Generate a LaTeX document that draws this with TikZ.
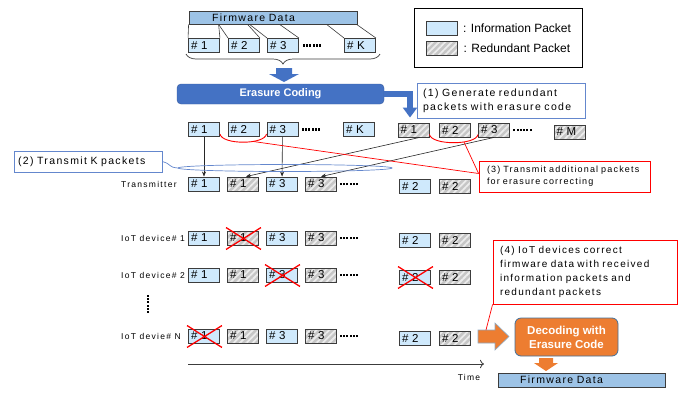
\documentclass[tikz,border=0pt]{standalone}
\usepackage{fontspec}
\setmainfont{Liberation Sans}
\newfontfamily\spfont[LetterSpace=13]{Liberation Sans}
\newfontfamily\lbfont[LetterSpace=15]{Liberation Sans}
\usepackage{xcolor}
\usepackage{tikz}
\usetikzlibrary{positioning,calc,arrows.meta,shapes.geometric,patterns.meta,decorations.pathreplacing}

\definecolor{infofill}{RGB}{207,233,252}
\definecolor{fwfill}{RGB}{157,195,230}
\definecolor{ecblue}{RGB}{68,114,196}
\definecolor{ecorange}{RGB}{237,125,49}
\definecolor{calloutblue}{RGB}{100,135,205}
\definecolor{boxline}{RGB}{60,60,60}
\definecolor{decline}{RGB}{65,113,156}

\newcommand{\pktdots}{\rule{2pt}{2.2pt}\hspace{1.3pt}\rule{2pt}{2.2pt}\hspace{1.3pt}\rule{2pt}{2.2pt}\hspace{1.3pt}\rule{2pt}{2.2pt}\hspace{1.3pt}\rule{2pt}{2.2pt}\hspace{1.3pt}\rule{2pt}{2.2pt}}

\tikzset{
	pkt/.style={draw=boxline, line width=0.9pt, minimum height=14pt, text width=26pt, inner xsep=2.5pt, inner ysep=0pt, align=left, font=\fontsize{11.5}{11.5}\selectfont},
	info/.style={pkt, fill=infofill},
	redun/.style={pkt, preaction={fill=gray!45}, pattern={Lines[angle=45,distance=4.5pt,line width=1.8pt]}, pattern color=white!85!gray},
	rowlab/.style={anchor=west, inner sep=0pt, font=\lbfont\fontsize{8.5}{8.5}\selectfont},
	callout/.style={fill=white, line width=0.8pt, inner ysep=0pt, align=left, font=\spfont\fontsize{10.5}{14}\selectfont},
	fwbar/.style={draw=boxline, fill=fwfill, line width=0.8pt, minimum width=168pt, minimum height=13pt, text width=122pt, inner xsep=23pt, inner ysep=0pt, align=left, font=\spfont\fontsize{10.5}{10.5}\selectfont},
	fwline/.style={draw=boxline, line width=0.6pt},
	redline/.style={draw=red, line width=0.9pt},
	xmark/.style={draw=red, line width=1.3pt},
	pktarrow/.style={-{Stealth[length=5pt,width=4pt]}, black!85, line width=0.6pt}
}

\begin{document}
\begin{tikzpicture}[x=1pt,y=-1pt]
	\useasboundingbox (0,0) rectangle (689,392);

	% legend
	\node[draw, line width=0.8pt, minimum width=168pt, minimum height=59pt] (legend) at (498,37.5) {};
	\node[info] (legi) at (442,28) {};
	\node[redun] (legr) at (442,48) {};
	\node[right=5pt of legi, inner sep=0pt, font=\fontsize{12}{12}\selectfont] (legit) {: Information Packet};
	\node[right=5pt of legr, inner sep=0pt, font=\fontsize{12}{12}\selectfont] (legrt) {: Redundant Packet};

	% firmware data split into K packets
	\node[fwbar] (fw) at (273,17.5) {Firmware Data};
	\node[info] (f1) at (204,45.5) {\# 1};
	\node[info] (f2) at (244,45.5) {\# 2};
	\node[info] (f3) at (283,45.5) {\# 3};
	\node[inner sep=0pt] (fdots) at (312,45.5) {\pktdots};
	\node[info] (fK) at (360,45.5) {\# K};
	\foreach \dx/\p in {0/f1.north west, 30/f1.north east, 30/f2.north west, 59/f2.north east, 61/f3.north west, 91/f3.north east, 138/fK.north west, 168/fK.north east}
		\draw[fwline] ($(fw.south west)+(\dx,0)$) -- (\p);
	\draw[decorate, decoration={brace, amplitude=10pt}, line width=0.7pt, boxline] (380,54) -- (186,54);
	\fill[ecblue] (276,68) -- (292,68) -- (292,74) -- (299,74) -- (284,82) -- (269,74) -- (276,74) -- cycle;

	\node[rounded corners=4pt, fill=ecblue, draw=ecblue!80!black, text=white, minimum width=207pt, minimum height=20pt, font=\bfseries\fontsize{11}{11}\selectfont] (ec) at (280.5,94) {Erasure Coding};

	% coded packets
	\node[info] (c1) at (204,129.5) {\# 1};
	\node[info] (c2) at (243.5,129.5) {\# 2};
	\node[info] (c3) at (282.5,129.5) {\# 3};
	\node[inner sep=0pt] (cdots) at (311,129.5) {\pktdots};
	\node[info] (cK) at (359,129.5) {\# K};
	\node[redun] (p1) at (413.5,130) {\# 1};
	\node[redun] (p2) at (455,130) {\# 2};
	\node[redun] (p3) at (494,130) {\# 3};
	\node[inner sep=0pt] (pdots) at (522.5,130) {\pktdots};
	\node[redun] (pM) at (569.5,132) {\# M};
	\draw[ecblue, line width=6pt, -{Triangle[width=14pt,length=10pt]}] (ec.east) -| ([xshift=-3.5pt,yshift=5pt]p1.north);

	\node[callout, draw=calloutblue, minimum width=168pt, minimum height=35pt, text width=156pt, inner xsep=6pt] (cb1) at (501,100.5) {(1) Generate redundant\\packets with erasure code};

	% transmitter and devices
	\foreach \row/\y/\lab in {t/184/Transmitter, a/238/IoT device\# 1, b/275/IoT device\# 2, n/336/IoT devie\# N} {
		\node[rowlab] (\row lab) at (121,\y) {\lab};
		\node[info] (\row i1) at (204,\y) {\# 1};
		\node[redun] (\row r1) at (243,\y) {\# 1};
		\node[info] (\row i3) at (282,\y) {\# 3};
		\node[redun] (\row r3) at (321,\y) {\# 3};
		\node[inner sep=0pt] (\row dots) at (349,\y) {\pktdots};
		\node[info] (\row i2) at (415,\y+2) {\# 2};
		\node[redun] (\row r2) at (455,\y+2) {\# 2};
	}
	\node[inner sep=0pt, rotate=90] (vdots) at (148,304) {\pktdots};

	% lost packets
	\foreach \n in {ar1, bi3, bi2, ni1}
		\draw[xmark] ([xshift=-1pt,yshift=3pt]\n.north west) -- ([xshift=2pt,yshift=-4pt]\n.south east)
			([xshift=-1pt,yshift=-4pt]\n.south west) -- ([xshift=2pt,yshift=3pt]\n.north east);

	\path[pktarrow]
	(c1) edge (ti1)
	(c3) edge (ti3)
	([xshift=6pt]p1.south) edge ([xshift=3pt]tr1.north)
	(p3.south) edge (tr3.north);

	% (2) K packets
	\node[ellipse, draw=calloutblue, line width=0.7pt, minimum width=214pt, minimum height=7pt, inner sep=0pt] (kset) at (285,168) {};
	\node[callout, draw=calloutblue, minimum width=148pt, minimum height=21pt, text width=140pt, inner xsep=4pt] (cb2) at (88,161.5) {(2) Transmit K packets};
	\draw[calloutblue, line width=0.7pt] (cb2.east) .. controls +(10,3) and +(-10,-1) .. (kset.west);

	% (3) additional packets
	\node[callout, draw=red, minimum width=171pt, minimum height=31pt, text width=155pt, inner xsep=8pt, font=\spfont\fontsize{9}{12}\selectfont] (cb3) at (564.5,176.5) {(3) Transmit additional packets\\for erasure correcting};
	\draw[redline] ([yshift=3pt]c1.south east) .. controls +(2,11) and +(-2,11) .. ([yshift=3pt]c3.south west) coordinate[pos=0.65] (arcA);
	\draw[redline] ([yshift=3pt]p1.south east) .. controls +(2,11) and +(-2,11) .. ([yshift=3pt]p3.south west) coordinate[pos=0.65] (arcB);
	\draw[redline, line width=0.7pt] (arcA) -- ([yshift=3pt]cb3.west);
	\draw[redline, line width=0.7pt] (arcB) -- ([yshift=3pt]cb3.west);

	% time axis
	\coordinate (t0) at (188,364);
	\coordinate (t1) at (484,364);
	\draw[-{To[length=4pt]}, line width=0.8pt, boxline] (t0) -- (t1);
	\node[rowlab, anchor=center] (timelab) at (469,377) {Time};

	% (4) decoding
	\node[callout, draw=red, minimum width=184pt, minimum height=64pt, text width=170pt, inner xsep=7pt, font=\spfont\fontsize{10}{14}\selectfont] (cb4) at (585,272) {(4) IoT devices correct\\firmware data with received\\information packets and\\redundant packets};
	\filldraw[fill=ecorange, draw=decline!60, line width=0.6pt] (478,330) -- (495,330) -- (495,323) -- (509,336.5) -- (495,350) -- (495,343) -- (478,343) -- cycle;
	\coordinate (oarr) at (486,330);
	\draw[red, line width=0.7pt] (cb4.south west) -- (oarr);
	\node[rounded corners=6pt, fill=ecorange, draw=decline, line width=0.8pt, text=white, minimum width=103pt, minimum height=38pt, align=center, font=\bfseries\fontsize{11.5}{14}\selectfont] (dec) at (566.5,337) {Decoding with\\Erasure Code};
	\fill[ecorange] (539,358) -- (553,358) -- (553,363) -- (558,363) -- (546,371) -- (534,363) -- (539,363) -- cycle;
	\node[fwbar, minimum width=167pt, minimum height=14pt, text width=123pt, inner xsep=22pt] (fwout) at (581.5,380) {Firmware Data};
\end{tikzpicture}
\end{document}
